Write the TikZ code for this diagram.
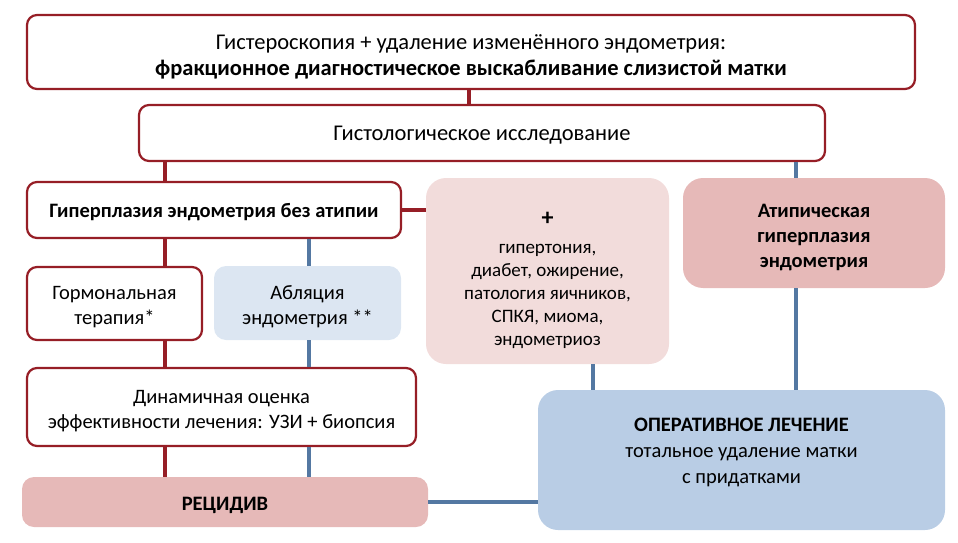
\documentclass[tikz,border=0pt]{standalone}
\usepackage{fontspec}
\setmainfont{Carlito}
\definecolor{frame}{RGB}{150,30,38}
\definecolor{wire}{RGB}{84,120,162}
\definecolor{pinklight}{RGB}{242,220,219}
\definecolor{pinkdark}{RGB}{230,185,184}
\definecolor{bluelight}{RGB}{220,230,242}
\definecolor{bluemid}{RGB}{185,205,229}

\begin{document}
\begin{tikzpicture}[x=1pt,y=-1pt,font=\fontsize{20.5}{25}\selectfont,
  whitebox/.style={draw=frame,line width=2.2pt,fill=white,rounded corners=10pt,inner sep=0pt},
  softbox/.style={fill=#1,rounded corners=20pt,inner sep=0pt},
  boxtext/.style={align=center,inner sep=0pt},
  bigtext/.style={font=\fontsize{22.5}{26}\selectfont},
  redline/.style={draw=frame,line width=3.5pt},
  blueline/.style={draw=wire,line width=3.5pt}]
\useasboundingbox (0,0) rectangle (958,543);
% boxes
\node[whitebox,minimum width=888,minimum height=74] (scopy) at (471,52) {};
\node[whitebox,minimum width=686,minimum height=56] (histo) at (482,133) {};
\node[whitebox,minimum width=374,minimum height=56] (noatyp) at (214,210) {};
\node[softbox=pinklight,minimum width=243,minimum height=186] (risks) at (547.5,271) {};
\node[softbox=pinkdark,minimum width=262,minimum height=110] (atyp) at (814,233) {};
\node[whitebox,minimum width=175,minimum height=73] (hormon) at (114.5,303.5) {};
\node[softbox=bluelight,rounded corners=12pt,minimum width=187,minimum height=74] (ablat) at (307.5,303) {};
\node[whitebox,minimum width=389,minimum height=78] (dynam) at (221.5,407) {};
\node[softbox=pinkdark,rounded corners=12pt,minimum width=406,minimum height=50] (relapse) at (225,502) {};
\node[softbox=bluemid,minimum width=407,minimum height=140] (surgery) at (741.5,460) {};
% texts
\node[boxtext,bigtext] (scopy-t) at ([yshift=-4.5pt]scopy.center) {Гистероскопия + удаление изменённого эндометрия:\\ \textbf{фракционное диагностическое выскабливание слизистой матки}};
\node[boxtext,bigtext] (histo-t) at ([yshift=-2pt]histo.center) {Гистологическое исследование};
\node[boxtext] (noatyp-t) at ([yshift=-2pt]noatyp.center) {\textbf{Гиперплазия эндометрия без атипии}};
\node[boxtext,font=\fontsize{19}{23}\selectfont] (risks-t) at ([yshift=-9pt]risks.center) {\textbf{\fontsize{24}{24}\selectfont +}\\[5pt] гипертония,\\ диабет, ожирение,\\ патология яичников,\\ СПКЯ, миома,\\ эндометриоз};
\node[boxtext] (atyp-t) at ([yshift=-5pt]atyp.center) {\textbf{Атипическая}\\ \textbf{гиперплазия}\\ \textbf{эндометрия}};
\node[boxtext] (hormon-t) at ([yshift=-4pt]hormon.center) {Гормональная\\ терапия*};
\node[boxtext] (ablat-t) at ([yshift=-3.5pt]ablat.center) {Абляция\\ эндометрия **};
\node[boxtext] (dynam-t) at ([yshift=-4.5pt]dynam.center) {Динамичная оценка\\ эффективности лечения: УЗИ + биопсия};
\node[boxtext] (relapse-t) at ([yshift=-3pt]relapse.center) {\textbf{РЕЦИДИВ}};
\node[boxtext,font=\fontsize{20.5}{26}\selectfont] (surgery-t) at ([yshift=7.5pt]surgery.center) {\textbf{ОПЕРАТИВНОЕ ЛЕЧЕНИЕ}\\ тотальное удаление матки\\ с придатками};
% connector columns
\coordinate (xmid) at (469,0); \coordinate (xleft) at (165,0); \coordinate (xabl) at (309,0);
\coordinate (xrisk) at (593,0); \coordinate (xatyp) at (796,0);
\draw[redline] (scopy.south -| xmid) -- (histo.north -| xmid);
\draw[redline] (histo.south -| xleft) -- (noatyp.north -| xleft);
\draw[blueline] (histo.south -| xatyp) -- (atyp.north -| xatyp);
\draw[redline] (noatyp.east) -- (noatyp.east -| risks.west);
\draw[redline] (noatyp.south -| xleft) -- (hormon.north -| xleft);
\draw[blueline] (noatyp.south -| xabl) -- (ablat.north -| xabl);
\draw[redline] (hormon.south -| xleft) -- (dynam.north -| xleft);
\draw[blueline] (ablat.south -| xabl) -- (dynam.north -| xabl);
\draw[redline] (dynam.south -| xleft) -- (relapse.north -| xleft);
\draw[blueline] (dynam.south -| xabl) -- (relapse.north -| xabl);
\draw[blueline] (relapse.east) -- (relapse.east -| surgery.west);
\draw[blueline] (risks.south -| xrisk) -- (surgery.north -| xrisk);
\draw[blueline] (atyp.south -| xatyp) -- (surgery.north -| xatyp);
\end{tikzpicture}
\end{document}
